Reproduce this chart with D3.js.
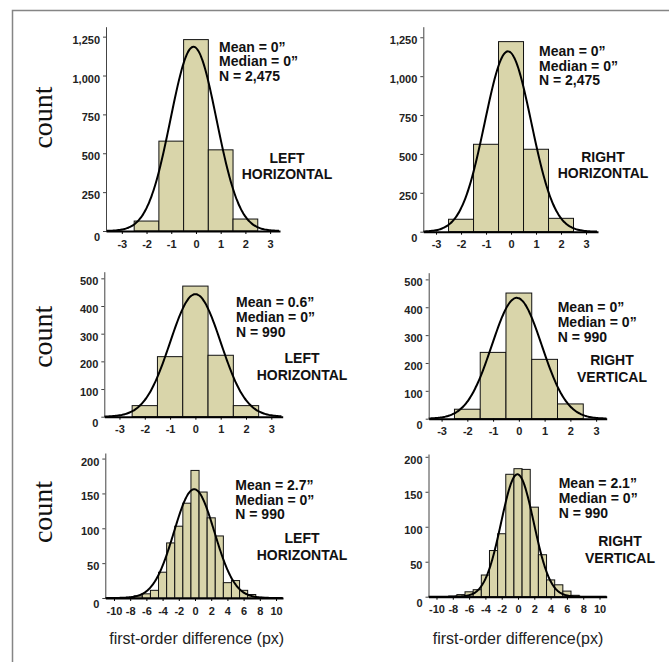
<!DOCTYPE html>
<html>
<head>
<meta charset="utf-8">
<script src="https://cdn.jsdelivr.net/npm/d3@7"></script>
<style>
  body { margin: 0; background: #fff; }
  svg { display: block; }
  .tick text { font-family: "Liberation Sans", Arial, sans-serif; font-weight: bold; font-size: 11px; fill: #222; }
</style>
</head>
<body>
<svg id="chart" width="669" height="662"></svg>
<script>
// bins (bin centres, width 1)
const coarseBins = [-2, -1, 0, 1, 2];
const fineBins = [-8, -7, -6, -5, -4, -3, -2, -1, 0, 1, 2, 3, 4, 5, 6, 7, 8];

// counts
const leftHorizTop = [64, 578, 1231, 522, 77];
const rightHorizTop = [80, 562, 1222, 530, 86];
const leftHorizMid = [40, 217, 472, 222, 40];
const rightVertMid = [34, 238, 451, 213, 53];
const leftHorizBot = [1, 3, 6, 11, 37, 79, 103, 136, 183, 152, 115, 89, 22, 25, 11, 5, 1];
const rightVertBot = [1, 3, 7, 10, 31, 66, 90, 175, 183, 182, 128, 60, 24, 17, 8, 2, 0];

// normal fit curves (centre, spread, peak height)
const fitMean = [-0.1, -0.12, 0.0, -0.08, -0.1, -0.07];
const fitSd = [0.93, 0.93, 1.0, 0.97, 2.5, 2.0];
const fitPeak = [1185, 1160, 443, 434, 156, 175];

// tick values
const coarseXTicks = [-3, -2, -1, 0, 1, 2, 3];
const fineXTicks = [-10, -8, -6, -4, -2, 0, 2, 4, 6, 8, 10];
const yTicksTop = [0, 250, 500, 750, 1000, 1250];
const yTicksMid = [0, 100, 200, 300, 400, 500];
const yTicksBot = [0, 50, 100, 150, 200];

// texts
const statLines = [
  ['Mean = 0\u201d', 'Median = 0\u201d', 'N = 2,475'],
  ['Mean = 0\u201d', 'Median = 0\u201d', 'N = 2,475'],
  ['Mean = 0.6\u201d', 'Median = 0\u201d', 'N = 990'],
  ['Mean = 0\u201d', 'Median = 0\u201d', 'N = 990'],
  ['Mean = 2.7\u201d', 'Median = 0\u201d', 'N = 990'],
  ['Mean = 2.1\u201d', 'Median = 0\u201d', 'N = 990']
];
const panelLabels = [
  ['LEFT', 'HORIZONTAL'], ['RIGHT', 'HORIZONTAL'],
  ['LEFT', 'HORIZONTAL'], ['RIGHT', 'VERTICAL'],
  ['LEFT', 'HORIZONTAL'], ['RIGHT', 'VERTICAL']
];

const svg = d3.select('#chart');
const sans = '"Liberation Sans", Arial, sans-serif';

// outer frame
svg.append('rect')
    .attr('x', 12.5).attr('y', 10.5)
    .attr('width', 700).attr('height', 700)
    .attr('fill', 'none')
    .attr('stroke', '#858585')
    .attr('stroke-width', 1.5);

// panel layout (pixels)
const panels = [
  {bins: coarseBins, counts: leftHorizTop, xTicks: coarseXTicks, yTicks: yTicksTop,
   ax: 106, xEnd: 280, xDom: [-3.64, 3.40], y0: 231, yTop: 26.7, yTopVal: 1314,
   statX: 219, statY: 51.7, labX: 287, labY: 162.7},
  {bins: coarseBins, counts: rightHorizTop, xTicks: coarseXTicks, yTicks: yTicksTop,
   ax: 423.3, xEnd: 598, xDom: [-3.51, 3.48], y0: 231.7, yTop: 26.7, yTopVal: 1318,
   statX: 539, statY: 56, labX: 603, labY: 161.7},
  {bins: coarseBins, counts: leftHorizMid, xTicks: coarseXTicks, yTicks: yTicksMid,
   ax: 104.3, xEnd: 282.7, xDom: [-3.6, 3.45], y0: 416.7, yTop: 271.7, yTopVal: 524,
   statX: 236, statY: 307.3, labX: 302, labY: 363.3},
  {bins: coarseBins, counts: rightVertMid, xTicks: coarseXTicks, yTicks: yTicksMid,
   ax: 428.7, xEnd: 606.7, xDom: [-3.5, 3.41], y0: 418.7, yTop: 272.7, yTopVal: 524,
   statX: 557.7, statY: 312.3, labX: 612, labY: 365},
  {bins: fineBins, counts: leftHorizBot, xTicks: fineXTicks, yTicks: yTicksBot,
   ax: 105.3, xEnd: 283, xDom: [-11.07, 10.86], y0: 598, yTop: 453, yTopVal: 208,
   statX: 235.3, statY: 490, labX: 302, labY: 543.3},
  {bins: fineBins, counts: rightVertBot, xTicks: fineXTicks, yTicks: yTicksBot,
   ax: 428.5, xEnd: 606.7, xDom: [-10.98, 10.88], y0: 596.7, yTop: 454, yTopVal: 204,
   statX: 558.7, statY: 488.3, labX: 620, labY: 546}
];

panels.forEach((p, i) => {
  const x = d3.scaleLinear().domain(p.xDom).range([p.ax, p.xEnd]);
  const y = d3.scaleLinear().domain([0, p.yTopVal]).range([p.y0, p.yTop]);
  const g = svg.append('g');

  // bars
  g.selectAll('rect.bar')
      .data(p.bins.map((b, k) => ({b: b, c: p.counts[k]})).filter(d => d.c > 0))
      .enter().append('rect')
      .attr('class', 'bar')
      .attr('x', d => x(d.b - 0.5))
      .attr('width', d => x(d.b + 0.5) - x(d.b - 0.5))
      .attr('y', d => y(d.c))
      .attr('height', d => y(0) - y(d.c))
      .attr('fill', '#d9d5aa')
      .attr('stroke', '#111')
      .attr('stroke-width', 1);

  // fitted normal curve
  const mu = fitMean[i], sd = fitSd[i], peak = fitPeak[i];
  const pts = d3.range(p.xDom[0], p.xDom[1], 0.05).map(v => ({
    v: v,
    c: peak * Math.exp(-0.5 * Math.pow((v - mu) / sd, 2))
  }));
  const curve = d3.line()
      .curve(d3.curveBasis)
      .x(d => x(d.v))
      .y(d => y(d.c));
  g.append('path')
      .attr('d', curve(pts))
      .attr('fill', 'none')
      .attr('stroke', '#000')
      .attr('stroke-width', 2);

  // y axis
  const yAxis = d3.axisLeft(y)
      .tickValues(p.yTicks)
      .tickFormat(d3.format(','))
      .tickSize(3)
      .tickPadding(3)
      .tickSizeOuter(0);
  const ya = g.append('g')
      .attr('transform', 'translate(' + p.ax + ',0)')
      .call(yAxis);
  ya.select('.domain').attr('stroke', '#444');
  ya.selectAll('.tick line').attr('stroke', '#444');
  ya.selectAll('.tick text').attr('y', d => d === 0 ? 6 : 3);

  // x axis
  const xAxis = d3.axisBottom(x)
      .tickValues(p.xTicks)
      .tickFormat(d => String(d))
      .tickSize(3)
      .tickPadding(6)
      .tickSizeOuter(0);
  const xa = g.append('g')
      .attr('transform', 'translate(0,' + p.y0 + ')')
      .call(xAxis);
  xa.select('.domain').attr('stroke', '#000').attr('stroke-width', 2);

  // stats
  statLines[i].forEach((t, k) => {
    g.append('text')
        .attr('x', p.statX)
        .attr('y', p.statY + k * 14.7)
        .attr('font-family', sans)
        .attr('font-weight', 'bold')
        .attr('font-size', '14px')
        .attr('fill', '#111')
        .text(t);
  });

  // panel labels
  panelLabels[i].forEach((t, k) => {
    g.append('text')
        .attr('x', p.labX)
        .attr('y', p.labY + k * 16.6)
        .attr('text-anchor', 'middle')
        .attr('font-family', sans)
        .attr('font-weight', 'bold')
        .attr('font-size', '14px')
        .attr('fill', '#111')
        .text(t);
  });
});

// count labels
[117.5, 336.7, 512].forEach(cy => {
  svg.append('text')
      .attr('transform', 'translate(52,' + cy + ') rotate(-90)')
      .attr('text-anchor', 'middle')
      .attr('font-family', '"Liberation Serif", "Times New Roman", serif')
      .attr('font-size', '28px')
      .attr('fill', '#111')
      .text('count');
});

// x axis titles
svg.append('text')
    .attr('x', 196.7).attr('y', 644)
    .attr('text-anchor', 'middle')
    .attr('font-family', sans)
    .attr('font-size', '16px')
    .attr('fill', '#222')
    .text('first-order difference (px)');
svg.append('text')
    .attr('x', 518).attr('y', 644)
    .attr('text-anchor', 'middle')
    .attr('font-family', sans)
    .attr('font-size', '16px')
    .attr('fill', '#222')
    .text('first-order difference(px)');
</script>
</body>
</html>
